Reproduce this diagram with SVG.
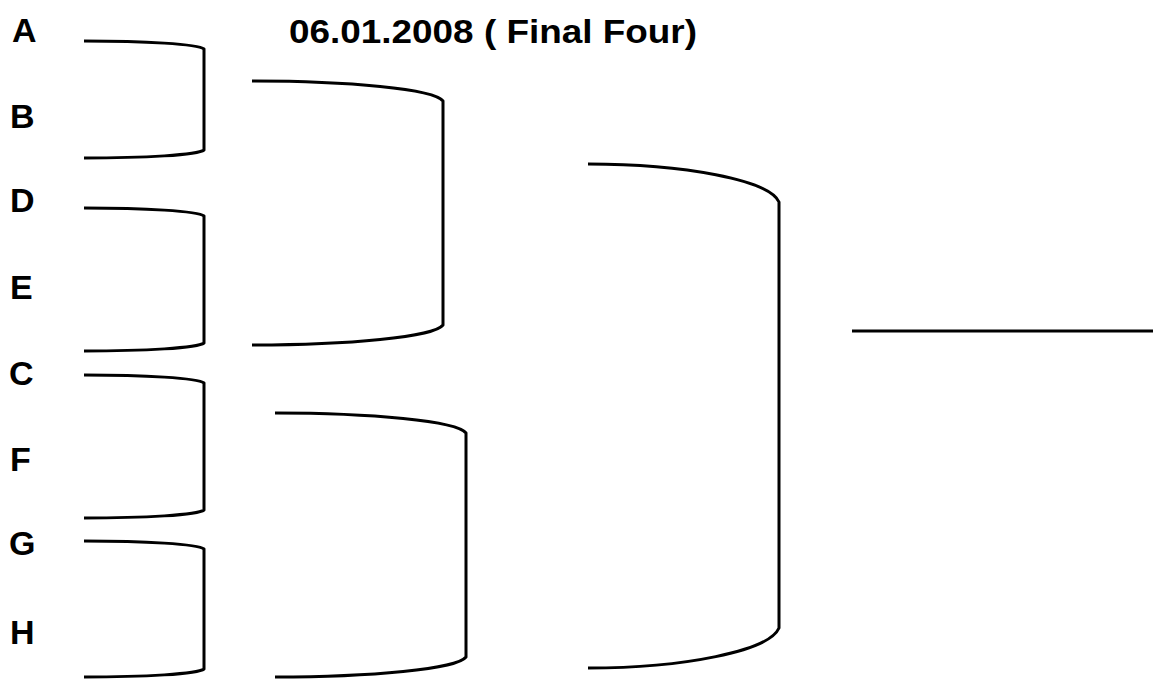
<svg xmlns="http://www.w3.org/2000/svg" width="1153" height="679" viewBox="0 0 1153 679">
<style>
.lbl{font-family:"Liberation Sans",Arial,sans-serif;font-weight:bold;font-size:34px;fill:#000}
.ttl{font-family:"Liberation Sans",Arial,sans-serif;font-weight:bold;font-size:34px;fill:#000}
.br{fill:none;stroke:#000;stroke-width:3;stroke-linejoin:round}
</style>
<rect width="1153" height="679" fill="#fff"/>
<g id="title"><text class="ttl" x="289" y="43" textLength="408" lengthAdjust="spacingAndGlyphs">06.01.2008 ( Final Four)</text></g>
<g id="team-A"><text class="lbl" x="12" y="42">A</text></g>
<g id="team-B"><text class="lbl" x="10" y="128">B</text></g>
<g id="team-D"><text class="lbl" x="10" y="212">D</text></g>
<g id="team-E"><text class="lbl" x="10" y="299">E</text></g>
<g id="team-C"><text class="lbl" x="9" y="385">C</text></g>
<g id="team-F"><text class="lbl" x="10" y="471">F</text></g>
<g id="team-G"><text class="lbl" x="9" y="555">G</text></g>
<g id="team-H"><text class="lbl" x="10" y="644">H</text></g>
<g id="connectors">
<path class="br" d="M84,41 C144,41 198,44 204,49 L204,150 C198,155 144,158 84,158"/>
<path class="br" d="M84,208 C144,208 198,211 204,216 L204,343 C198,348 144,351 84,351"/>
<path class="br" d="M84,375 C144,375 198,378 204,383 L204,510 C198,515 144,518 84,518"/>
<path class="br" d="M84,541 C144,541 198,544 204,549 L204,669 C198,674 144,677 84,677"/>
<path class="br" d="M252,81 C348,81 434,89 443,101 L443,325 C434,337 348,345 252,345"/>
<path class="br" d="M275,413 C371,413 457,421 466,433 L466,657 C457,669 371,677 275,677"/>
<path class="br" d="M588,164 C684,164 769,180 779,202 L779,628 C769,651 684,668 588,668"/>
<line class="br" x1="852" y1="331" x2="1153" y2="331"/>
</g>
</svg>
